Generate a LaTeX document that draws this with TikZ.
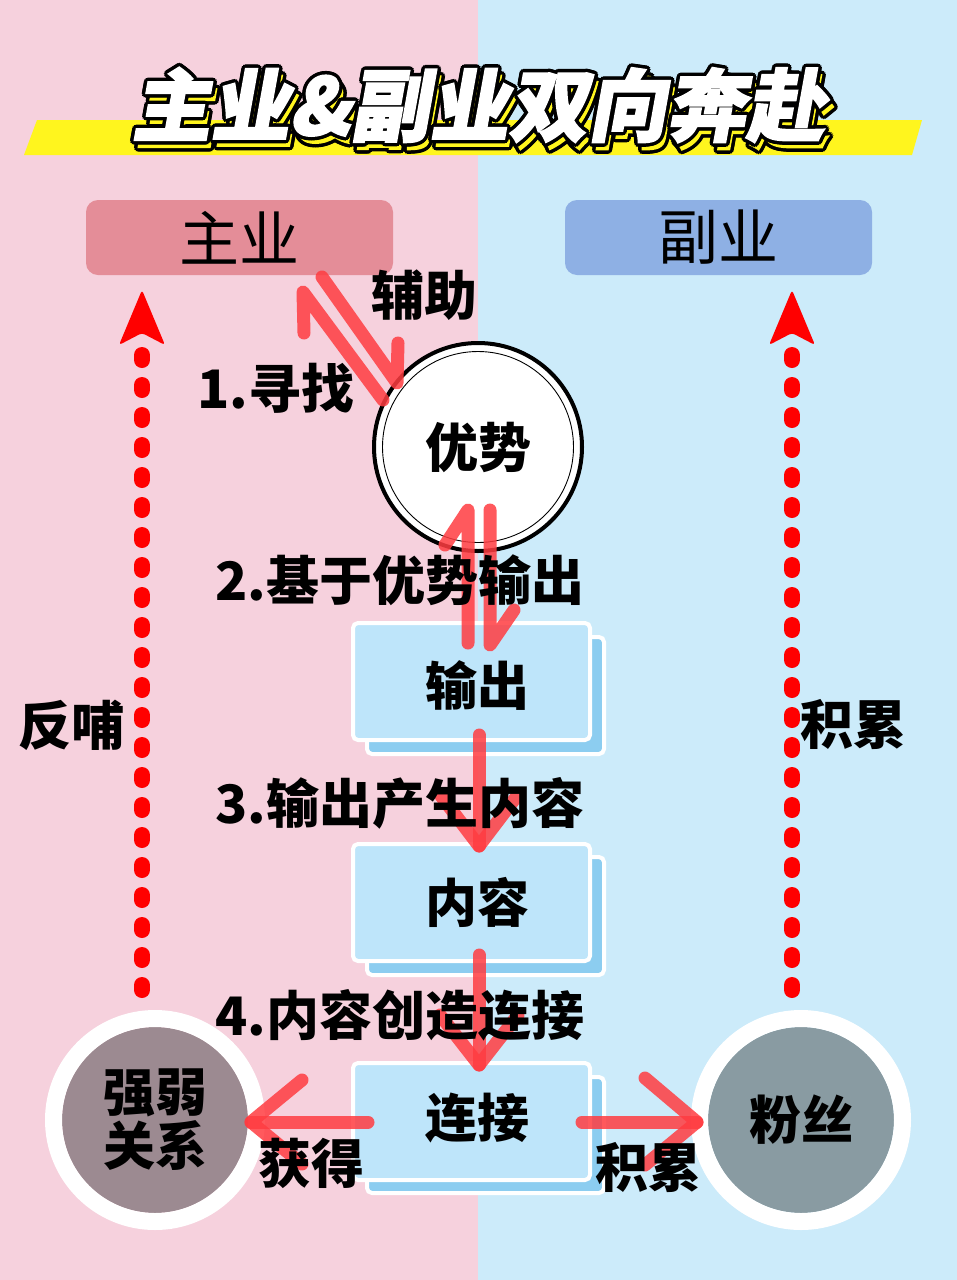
\documentclass[tikz,border=0pt]{standalone}
\usepackage{fontspec}
\newfontfamily\cjk{Noto Sans CJK SC}
\newfontfamily\cjktitle[FakeSlant=0.18,FakeBold=2]{Noto Sans CJK SC}
\definecolor{bgpink}{RGB}{246,209,221}
\definecolor{bgblue}{RGB}{204,235,250}
\definecolor{zhupink}{RGB}{228,141,152}
\definecolor{fublue}{RGB}{142,176,228}
\definecolor{boxfront}{RGB}{190,229,250}
\definecolor{boxback}{RGB}{140,205,240}
\definecolor{arrowred}{RGB}{255,60,65}
\definecolor{dotred}{RGB}{255,0,0}
\definecolor{ttlyellow}{RGB}{255,245,30}
\definecolor{mauve}{RGB}{156,138,145}
\definecolor{slate}{RGB}{137,155,162}
\newcommand\ttltext{\cjktitle\bfseries\fontsize{79}{90}\selectfont 主业\&副业双向奔赴}
\tikzset{
  topbox/.style={rounded corners=12pt, minimum width=307pt, minimum height=75pt, inner sep=0pt,
    font=\cjk\fontsize{60}{62}\selectfont},
  bluefront/.style={draw=white, line width=4pt, fill=boxfront, rounded corners=5pt,
    minimum width=237pt, minimum height=117pt, inner sep=0pt},
  blueback/.style={draw=white, line width=4pt, fill=boxback, rounded corners=5pt},
  boxtext/.style={inner sep=0pt, font=\cjk\bfseries\fontsize{52}{55}\selectfont},
  lbl/.style={inner sep=0pt, font=\cjk\bfseries\fontsize{53}{56}\selectfont},
  redarrow/.style={draw=arrowred, line width=13pt, line cap=round, line join=round, opacity=0.85},
  dotline/.style={draw=dotred, line width=16pt, line cap=round, dash pattern=on 5pt off 25pt},
  bigcircle/.style={circle, minimum size=186pt, inner sep=0pt, align=center,
    font=\cjk\bfseries\fontsize{52}{58}\selectfont},
}
\begin{document}
\begin{tikzpicture}[x=1pt,y=-1pt]
\useasboundingbox (0,0) rectangle (957,1280);
% background
\fill[bgpink] (0,0) rectangle (478,1280);
\fill[bgblue] (478,0) rectangle (957,1280);
% title band
\fill[ttlyellow] (37,120) -- (922,120) -- (912,155) -- (24,155) -- cycle;
% title text: shadow then outlined white
\foreach \a in {0,30,...,330}
  \node[inner sep=0pt,text=black] at ({478+4+3.5*cos(\a)},{105+7+3.5*sin(\a)}) {\ttltext};
\node[inner sep=0pt,text=ttlyellow] at (482,112) {\ttltext};
\foreach \a in {0,30,...,330}
  \node[inner sep=0pt,text=black] at ({478+3.5*cos(\a)},{105+3.5*sin(\a)}) {\ttltext};
\node[inner sep=0pt,text=white] (title) at (478,105) {\ttltext};

% top boxes
\node[topbox, fill=zhupink] (zhuye) at (239.5,237.5) {主业};
\node[topbox, fill=fublue] (fuye) at (718.5,237.5) {副业};

% advantage circle
\node[circle, draw=black, line width=4pt, fill=white, minimum size=208pt, inner sep=0pt,
  font=\cjk\bfseries\fontsize{53}{55}\selectfont] (youshi) at (478,447) {优势};
\draw[black, line width=0.9pt] (youshi.center) circle[radius=95.5];

% blue boxes
\fill[blueback] (367,637) rectangle (604,754);
\node[bluefront] (shuchu) at (471.5,681.5) {};
\node[boxtext] (shuchuT) at (477,685) {输出};
\fill[blueback] (367,857) rectangle (604,975);
\node[bluefront] (neirong) at (471.5,902.5) {};
\node[boxtext] (neirongT) at (477,902) {内容};
\fill[blueback] (367,1077) rectangle (604,1193);
\node[bluefront] (lianjie) at (471.5,1121.5) {};
\node[boxtext] (lianjieT) at (477,1118) {连接};

% bottom circles
\node[bigcircle, fill=mauve] (qiangruo) at (155,1120) {强弱\\[-4pt]关系};
\draw[white, line width=17pt] (qiangruo.center) circle[radius=101.5];
\node[bigcircle, fill=slate] (fensi) at (801,1120) {粉丝};
\draw[white, line width=17pt] (fensi.center) circle[radius=101.5];

% dotted feedback arrows
\coordinate (lbot) at (142,990);
\coordinate (ltop) at (142,355);
\coordinate (rbot) at (792,990);
\coordinate (rtop) at (792,355);
\draw[dotline] (lbot) -- (ltop);
\draw[dotline] (rbot) -- (rtop);
\fill[dotred, rounded corners=3pt] (142,290) -- (165,345) -- (142,333) -- (119,345) -- cycle;
\fill[dotred, rounded corners=3pt] (792,290) -- (815,345) -- (792,333) -- (769,345) -- cycle;

% harpoons between 主业 and 优势
\coordinate (h1s) at (322,277); \coordinate (h1t) at (397,383); \coordinate (h1b) at (398,343);
\draw[redarrow] (h1s) -- (h1t) -- (h1b);
\coordinate (h2s) at (383,400); \coordinate (h2t) at (303,292); \coordinate (h2b) at (304,333);
\draw[redarrow] (h2s) -- (h2t) -- (h2b);
% harpoons between 优势 and 输出
\coordinate (h3s) at (468,643); \coordinate (h3t) at (468,510); \coordinate (h3b) at (445,545);
\draw[redarrow] (h3s) -- (h3t) -- (h3b);
\coordinate (h4s) at (490,510); \coordinate (h4t) at (490,645); \coordinate (h4b) at (514,610);
\draw[redarrow] (h4s) -- (h4t) -- (h4b);
% 输出 -> 内容
\coordinate (a5s) at (479,735); \coordinate (a5t) at (479,846);
\draw[redarrow] (a5s) -- (a5t);
\draw[redarrow] (441,796) -- (a5t) -- (517,796);
% 内容 -> 连接
\coordinate (a6s) at (479,955); \coordinate (a6t) at (479,1065);
\draw[redarrow] (a6s) -- (a6t);
\draw[redarrow] (440,1015) -- (a6t) -- (518,1015);
% 连接 -> 强弱关系
\coordinate (a7s) at (368,1122); \coordinate (a7t) at (251,1122);
\draw[redarrow] (a7s) -- (a7t);
\draw[redarrow] (302,1080) -- (a7t) -- (302,1164);
% 连接 -> 粉丝
\coordinate (a8s) at (582,1122); \coordinate (a8t) at (697,1122);
\draw[redarrow] (a8s) -- (a8t);
\draw[redarrow] (645,1078) -- (a8t) -- (645,1165);

% labels
\node[lbl] (l1) at (424,295) {辅助};
\node[lbl] (l2) at (276,388) {1.寻找};
\node[lbl] (l3) at (400,580) {2.基于优势输出};
\node[lbl] (l4) at (400,803) {3.输出产生内容};
\node[lbl] (l5) at (400,1015) {4.内容创造连接};
\node[lbl] (l6) at (72,725) {反哺};
\node[lbl] (l7) at (853,725) {积累};
\node[lbl] (l8) at (311,1163) {获得};
\node[lbl] (l9) at (648,1168) {积累};
\end{tikzpicture}
\end{document}
